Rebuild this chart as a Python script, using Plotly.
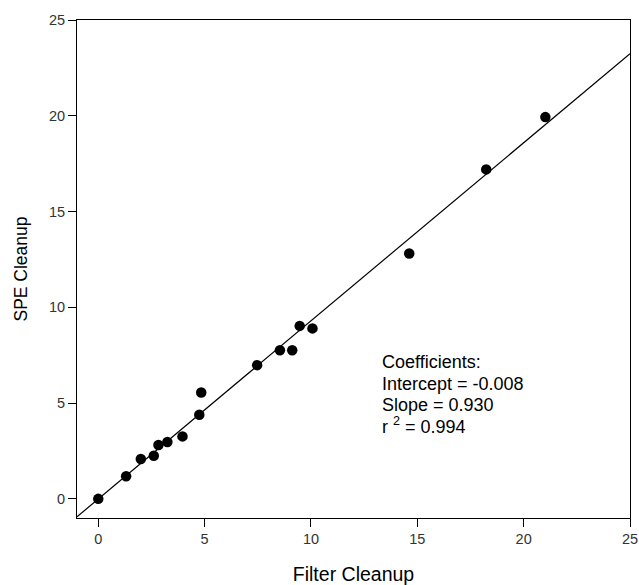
import plotly.graph_objects as go

filter_cleanup = [0.0, 1.31, 2.0, 2.61, 2.83, 3.25, 3.96, 4.75, 4.84, 7.47, 8.54, 9.12, 9.47, 10.07, 14.62, 18.24, 21.02]
spe_cleanup = [0.0, 1.18, 2.08, 2.25, 2.81, 2.97, 3.26, 4.39, 5.55, 6.98, 7.76, 7.76, 9.03, 8.9, 12.81, 17.2, 19.93]
intercept = -0.008
slope = 0.930
r_squared = 0.994
fit_x = [-1, 25]
fit_y = [intercept + slope * v for v in fit_x]
ticks = [0, 5, 10, 15, 20, 25]
coef_lines = ["Coefficients:", f"Intercept = {intercept:.3f}", f"Slope = {slope:.3f}",
              f"r <sup>2</sup> = {r_squared:.3f}"]

font = "Liberation Sans, Arial, sans-serif"
fig = go.Figure()
fig.add_trace(go.Scatter(x=fit_x, y=fit_y, mode="lines", line=dict(color="black", width=1.2),
                         showlegend=False))
fig.add_trace(go.Scatter(x=filter_cleanup, y=spe_cleanup, mode="markers",
                         marker=dict(color="black", size=10.5), showlegend=False))

line_y = [0.3139, 0.2697, 0.2275, 0.1853]
for txt, yy in zip(coef_lines, line_y):
    fig.add_annotation(x=0.548, y=yy, xref="paper", yref="paper", xanchor="left", yanchor="middle",
                       align="left", showarrow=False, text=txt,
                       font=dict(family=font, size=18, color="black"))

axis_common = dict(showgrid=False, zeroline=False, ticks="outside", ticklen=8, tickwidth=1,
                   tickcolor="black", showline=True, linecolor="black", linewidth=1, mirror=True,
                   tickfont=dict(family=font, size=14.5, color="#333333"), tickvals=ticks,
                   automargin=False)
fig.update_xaxes(range=[-1, 25], title=dict(text="Filter Cleanup", font=dict(family=font, size=19.5, color="black"), standoff=25), **axis_common)
fig.update_yaxes(range=[-1, 25], title=dict(text="SPE Cleanup", font=dict(family=font, size=17.5, color="black"), standoff=16), **axis_common)

fig.update_layout(width=639, height=585, margin=dict(l=77, r=9, t=20, b=67),
                  plot_bgcolor="white", paper_bgcolor="white")
fig.write_html("out.html", config={"displayModeBar": False},
               post_script="document.body.style.margin='0';document.documentElement.style.overflow='hidden';")
